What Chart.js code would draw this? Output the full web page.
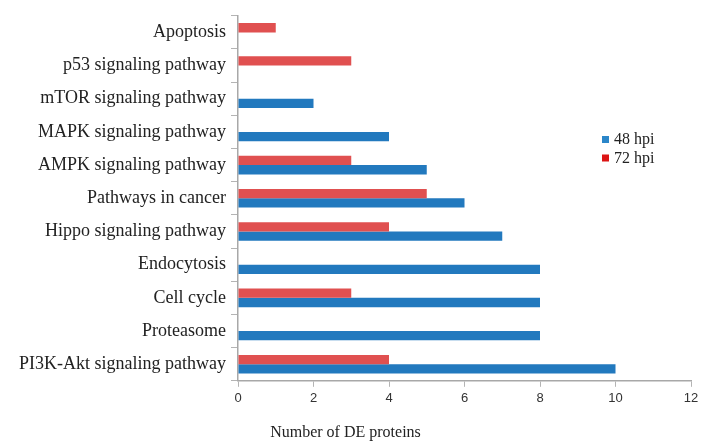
<!DOCTYPE html>
<html>
<head>
<meta charset="utf-8">
<script src="https://cdn.jsdelivr.net/npm/chart.js@4.4.1/dist/chart.umd.min.js"></script>
<style>
  html, body { margin: 0; padding: 0; background: #fff; }
  #wrap { width: 716px; height: 448px; }
</style>
</head>
<body>
<div id="wrap"><canvas id="deChart" width="716" height="448"></canvas></div>
<script>
const pathways = [
    "Apoptosis",
    "p53 signaling pathway",
    "mTOR signaling pathway",
    "MAPK signaling pathway",
    "AMPK signaling pathway",
    "Pathways in cancer",
    "Hippo signaling pathway",
    "Endocytosis",
    "Cell cycle",
    "Proteasome",
    "PI3K-Akt signaling pathway"
];
const hpi48 = [0, 0, 2, 4, 5, 6, 7, 8, 8, 8, 10];
const hpi72 = [1, 3, 0, 0, 3, 5, 4, 0, 3, 0, 4];
const xTicks = [0, 2, 4, 6, 8, 10, 12];

const serif = "'Liberation Serif', 'Times New Roman', serif";

// legend sits inside the plot, so draw it by hand
const legendBox = {
    id: 'legendBox',
    afterDraw(chart) {
        const c = chart.ctx;
        const items = [
            { text: "48 hpi", color: "#2b86c9" },
            { text: "72 hpi", color: "#dc1515" }
        ];
        c.save();
        c.font = "16px " + serif;
        c.textBaseline = "middle";
        items.forEach((it, i) => {
            const y = 140 + i * 18.5;
            c.fillStyle = it.color;
            c.fillRect(602, y - 4, 7, 7);
            c.fillStyle = "#222";
            c.fillText(it.text, 614, y);
        });
        c.restore();
    }
};

const chart = new Chart(document.getElementById('deChart').getContext('2d'), {
    type: 'bar',
    data: {
        labels: pathways,
        datasets: [{
            label: "72 hpi",
            data: hpi72,
            backgroundColor: "#e05050",
            barPercentage: 1,
            categoryPercentage: 0.56
        }, {
            label: "48 hpi",
            data: hpi48,
            backgroundColor: "#2279be",
            barPercentage: 1,
            categoryPercentage: 0.56
        }]
    },
    options: {
        indexAxis: 'y',
        responsive: false,
        animation: false,
        layout: { padding: { top: 9, right: 25, left: 0, bottom: 0 } },
        scales: {
            x: {
                min: 0,
                max: 12,
                afterBuildTicks(scale) {
                    scale.ticks = xTicks.map(v => ({ value: v }));
                },
                afterFit(scale) { scale.height = 34; },
                grid: {
                    drawOnChartArea: false,
                    drawTicks: true,
                    tickLength: 6,
                    color: "#b4b4b4"
                },
                border: { display: true, color: "#a8a8a8", width: 1.5 },
                ticks: {
                    padding: 4,
                    color: "#333",
                    font: { family: "'Liberation Sans', Arial, sans-serif", size: 13 }
                }
            },
            y: {
                afterFit(scale) { scale.width = 238; },
                grid: {
                    offset: true,
                    drawOnChartArea: false,
                    drawTicks: true,
                    tickLength: 7,
                    color: "#b4b4b4"
                },
                border: { display: true, color: "#a8a8a8", width: 1.5 },
                ticks: {
                    padding: 5,
                    color: "#222",
                    font: { family: serif, size: 18 }
                }
            }
        },
        plugins: {
            legend: { display: false },
            tooltip: { enabled: false },
            title: {
                display: true,
                position: 'bottom',
                text: "Number of DE proteins",
                color: "#222",
                font: { family: serif, size: 16, weight: 'normal' },
                padding: { top: 8, bottom: 6 }
            }
        }
    },
    plugins: [legendBox]
});
</script>
</body>
</html>
